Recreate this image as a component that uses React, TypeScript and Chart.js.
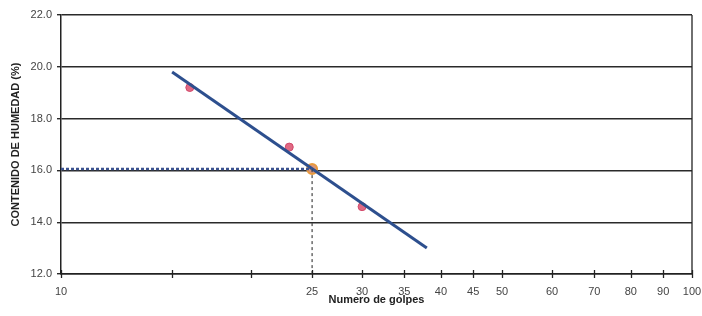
import React, { useEffect, useRef } from "react";
import { Chart, registerables } from "chart.js";

Chart.register(...registerables);

// Data
const trendGolpes = [15, 38];
const trendHumedad = [19.8, 13.0];
const sampleGolpes = [16, 23, 30];
const sampleHumedad = [19.2, 16.9, 14.6];
const llGolpes = [25];
const llHumedad = [16.05];
const xTickValues = [10, 15, 20, 25, 30, 35, 40, 45, 50, 60, 70, 80, 90, 100];
const xTickLabels = ["10", "", "", "25", "30", "35", "40", "45", "50", "60", "70", "80", "90", "100"];
const yMin = 12;
const yMax = 22;
const yStep = 2;
const xMin = 10;
const xMax = 100;

const FONT = "'Liberation Sans', Arial, sans-serif";

const frame = {
  id: "frame",
  afterDraw(chart: any) {
    const { ctx, chartArea, scales } = chart;
    const xs = scales.x;
    ctx.save();
    ctx.strokeStyle = "#222";
    ctx.lineWidth = 1.3;
    ctx.beginPath();
    ctx.moveTo(chartArea.right, chartArea.top);
    ctx.lineTo(chartArea.right, chartArea.bottom);
    ctx.stroke();
    xTickValues.forEach((v) => {
      const px = Math.round(xs.getPixelForValue(v)) + 0.5;
      ctx.beginPath();
      ctx.moveTo(px, chartArea.bottom - 4);
      ctx.lineTo(px, chartArea.bottom + 4);
      ctx.stroke();
    });
    ctx.restore();
  },
};

export default function App() {
  const ref = useRef<HTMLCanvasElement | null>(null);
  useEffect(() => {
    document.body.style.margin = "0";
    const canvas = ref.current!;
    const chart = new Chart(canvas, {
      type: "scatter",
      data: {
        datasets: [
          {
            label: "ref-h",
            data: [
              { x: xMin, y: llHumedad[0] },
              { x: llGolpes[0], y: llHumedad[0] },
            ],
            showLine: true,
            borderColor: "#3c5390",
            borderWidth: 2.5,
            borderDash: [3, 2],
            pointRadius: 0,
          },
          {
            label: "ref-v",
            data: [
              { x: llGolpes[0], y: llHumedad[0] },
              { x: llGolpes[0], y: yMin },
            ],
            showLine: true,
            borderColor: "#444",
            borderWidth: 1.2,
            borderDash: [3, 3],
            pointRadius: 0,
          },
          {
            label: "trend",
            data: trendGolpes.map((g, i) => ({ x: g, y: trendHumedad[i] })),
            showLine: true,
            borderColor: "#2d4f8e",
            borderWidth: 3,
            pointRadius: 0,
          },
          {
            label: "samples",
            data: sampleGolpes.map((g, i) => ({ x: g, y: sampleHumedad[i] })),
            showLine: false,
            backgroundColor: "#e06a84",
            borderColor: "#d2486a",
            borderWidth: 1,
            pointRadius: 4,
          },
          {
            label: "LL",
            data: llGolpes.map((g, i) => ({ x: g, y: llHumedad[i] })),
            showLine: false,
            backgroundColor: "#d9957a",
            borderColor: "#e89a3c",
            borderWidth: 2,
            pointRadius: 5,
          },
        ],
      },
      options: {
        responsive: false,
        animation: false,
        layout: { padding: { top: 15, right: 0, left: 0, bottom: 0 } },
        plugins: { legend: { display: false }, tooltip: { enabled: false } },
        scales: {
          x: {
            type: "logarithmic",
            min: xMin,
            max: xMax,
            afterBuildTicks: (s: any) => {
              s.ticks = xTickValues.map((v) => ({ value: v }));
            },
            afterFit: (s: any) => {
              s.height = 42;
              s.paddingRight = 10;
            },
            ticks: {
              autoSkip: false,
              maxRotation: 0,
              padding: 11,
              color: "#444",
              font: { family: FONT, size: 11 },
              callback: (_v: any, i: number) => xTickLabels[i],
            },
            grid: { display: true, drawOnChartArea: false, drawTicks: false },
            border: { display: true, color: "#222", width: 1.5 },
            title: {
              display: true,
              text: "Numero de golpes",
              color: "#222",
              font: { family: FONT, size: 11, weight: "bold" },
              padding: { top: 0, bottom: 9 },
            },
          },
          y: {
            min: yMin,
            max: yMax,
            afterFit: (s: any) => {
              s.width = 61;
            },
            ticks: {
              stepSize: yStep,
              padding: 5,
              color: "#444",
              font: { family: FONT, size: 11 },
              callback: (v: any) => Number(v).toFixed(1),
            },
            grid: { color: "#2a2a2a", lineWidth: 1.4, tickLength: 4 },
            border: { display: true, color: "#222", width: 1.5 },
            title: {
              display: true,
              text: "CONTENIDO DE HUMEDAD (%)",
              color: "#222",
              font: { family: FONT, size: 11, weight: "bold" },
              padding: { top: 9, bottom: 0 },
            },
          },
        },
      },
      plugins: [frame],
    } as any);
    return () => chart.destroy();
  }, []);
  return (
    <div style={{ width: 702, height: 316, background: "#fff" }}>
      <canvas ref={ref} width={702} height={316} />
    </div>
  );
}
